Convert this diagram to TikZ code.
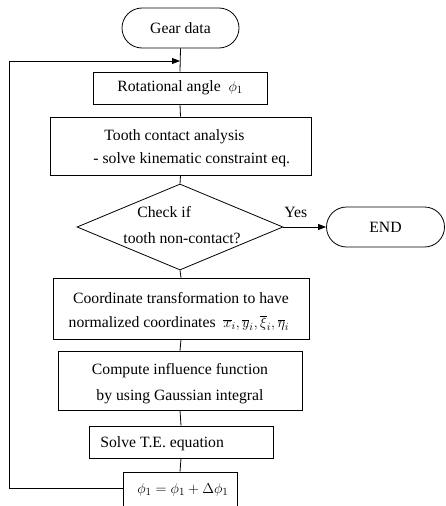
\documentclass[tikz,border=0pt]{standalone}
\usepackage{fontspec}
\setmainfont{Liberation Serif}
\usetikzlibrary{arrows.meta,shapes.geometric,shapes.misc}
\begin{document}
\begin{tikzpicture}[x=1pt,y=-1pt,
  font=\fontsize{15.7}{18}\selectfont, line width=0.8pt,
  box/.style={draw, rectangle, inner sep=0pt},
  term/.style={draw, rounded rectangle, inner sep=0pt},
  dec/.style={draw, diamond, inner sep=0pt},
  lbl/.style={anchor=west, inner sep=0pt},
  arr/.style={-{Triangle[length=8pt,width=6pt]}}]
\useasboundingbox (0,0) rectangle (445,506);
% boxes
\node[term, minimum width=117pt, minimum height=40pt] (gear) at (180.5,28) {Gear data};
\node[box, minimum width=174pt, minimum height=32pt] (rot) at (180,88) {};
\node[box, minimum width=261pt, minimum height=58pt] (tca) at (180.5,146) {};
\node[dec, minimum width=206pt, minimum height=86pt] (chk) at (180,227) {};
\node[term, minimum width=118pt, minimum height=40pt] (end) at (385.5,227) {END};
\node[box, minimum width=256pt, minimum height=61pt] (crd) at (181,308.5) {};
\node[box, minimum width=244pt, minimum height=59pt] (cmp) at (180,380.5) {};
\node[box, minimum width=184pt, minimum height=32pt] (slv) at (181,442) {};
\node[box, minimum width=114pt, minimum height=36pt] (upd) at (180,490) {};
% texts
\node[lbl] (r1) at (117,88) {Rotational angle~~$\phi_1$};
\node[lbl] (t1) at (104,137) {Tooth contact analysis};
\node[lbl] (t2) at (93,160) {- solve kinematic constraint eq.};
\node[lbl] (c1) at (137,212) {Check if};
\node[lbl] (c2) at (123,238) {tooth non-contact?};
\node[lbl] (yes) at (284,212) {Yes};
\node (k1) at (181,298) {Coordinate transformation to have};
\node (k2) at (179,323) {normalized coordinates~~$\overline{x}_i,\overline{y}_i,\overline{\xi}_i,\overline{\eta}_i$};
\node (m1) at (180,371) {Compute influence function};
\node (m2) at (180,397) {by using Gaussian integral};
\node[lbl] (s1) at (100,444) {Solve T.E. equation};
\node[lbl] (u1) at (137,490) {$\phi_1=\phi_1+\Delta\phi_1$};
% connectors
\coordinate (j) at (180,61);
\coordinate (lb) at (9,488);
\coordinate (lt) at (9,61);
\draw (gear.south) -- (rot.north);
\draw (rot.south) -- (tca.north);
\draw (tca.south) -- (chk.north);
\draw (chk.south) -- (crd.north);
\draw (crd.south) -- (cmp.north);
\draw (cmp.south) -- (slv.north);
\draw (slv.south) -- (upd.north);
\draw[arr] (chk.east) -- (end.west);
\draw[arr] (upd.west |- lb) -- (lb) -- (lt) -- (j);
\end{tikzpicture}
\end{document}
